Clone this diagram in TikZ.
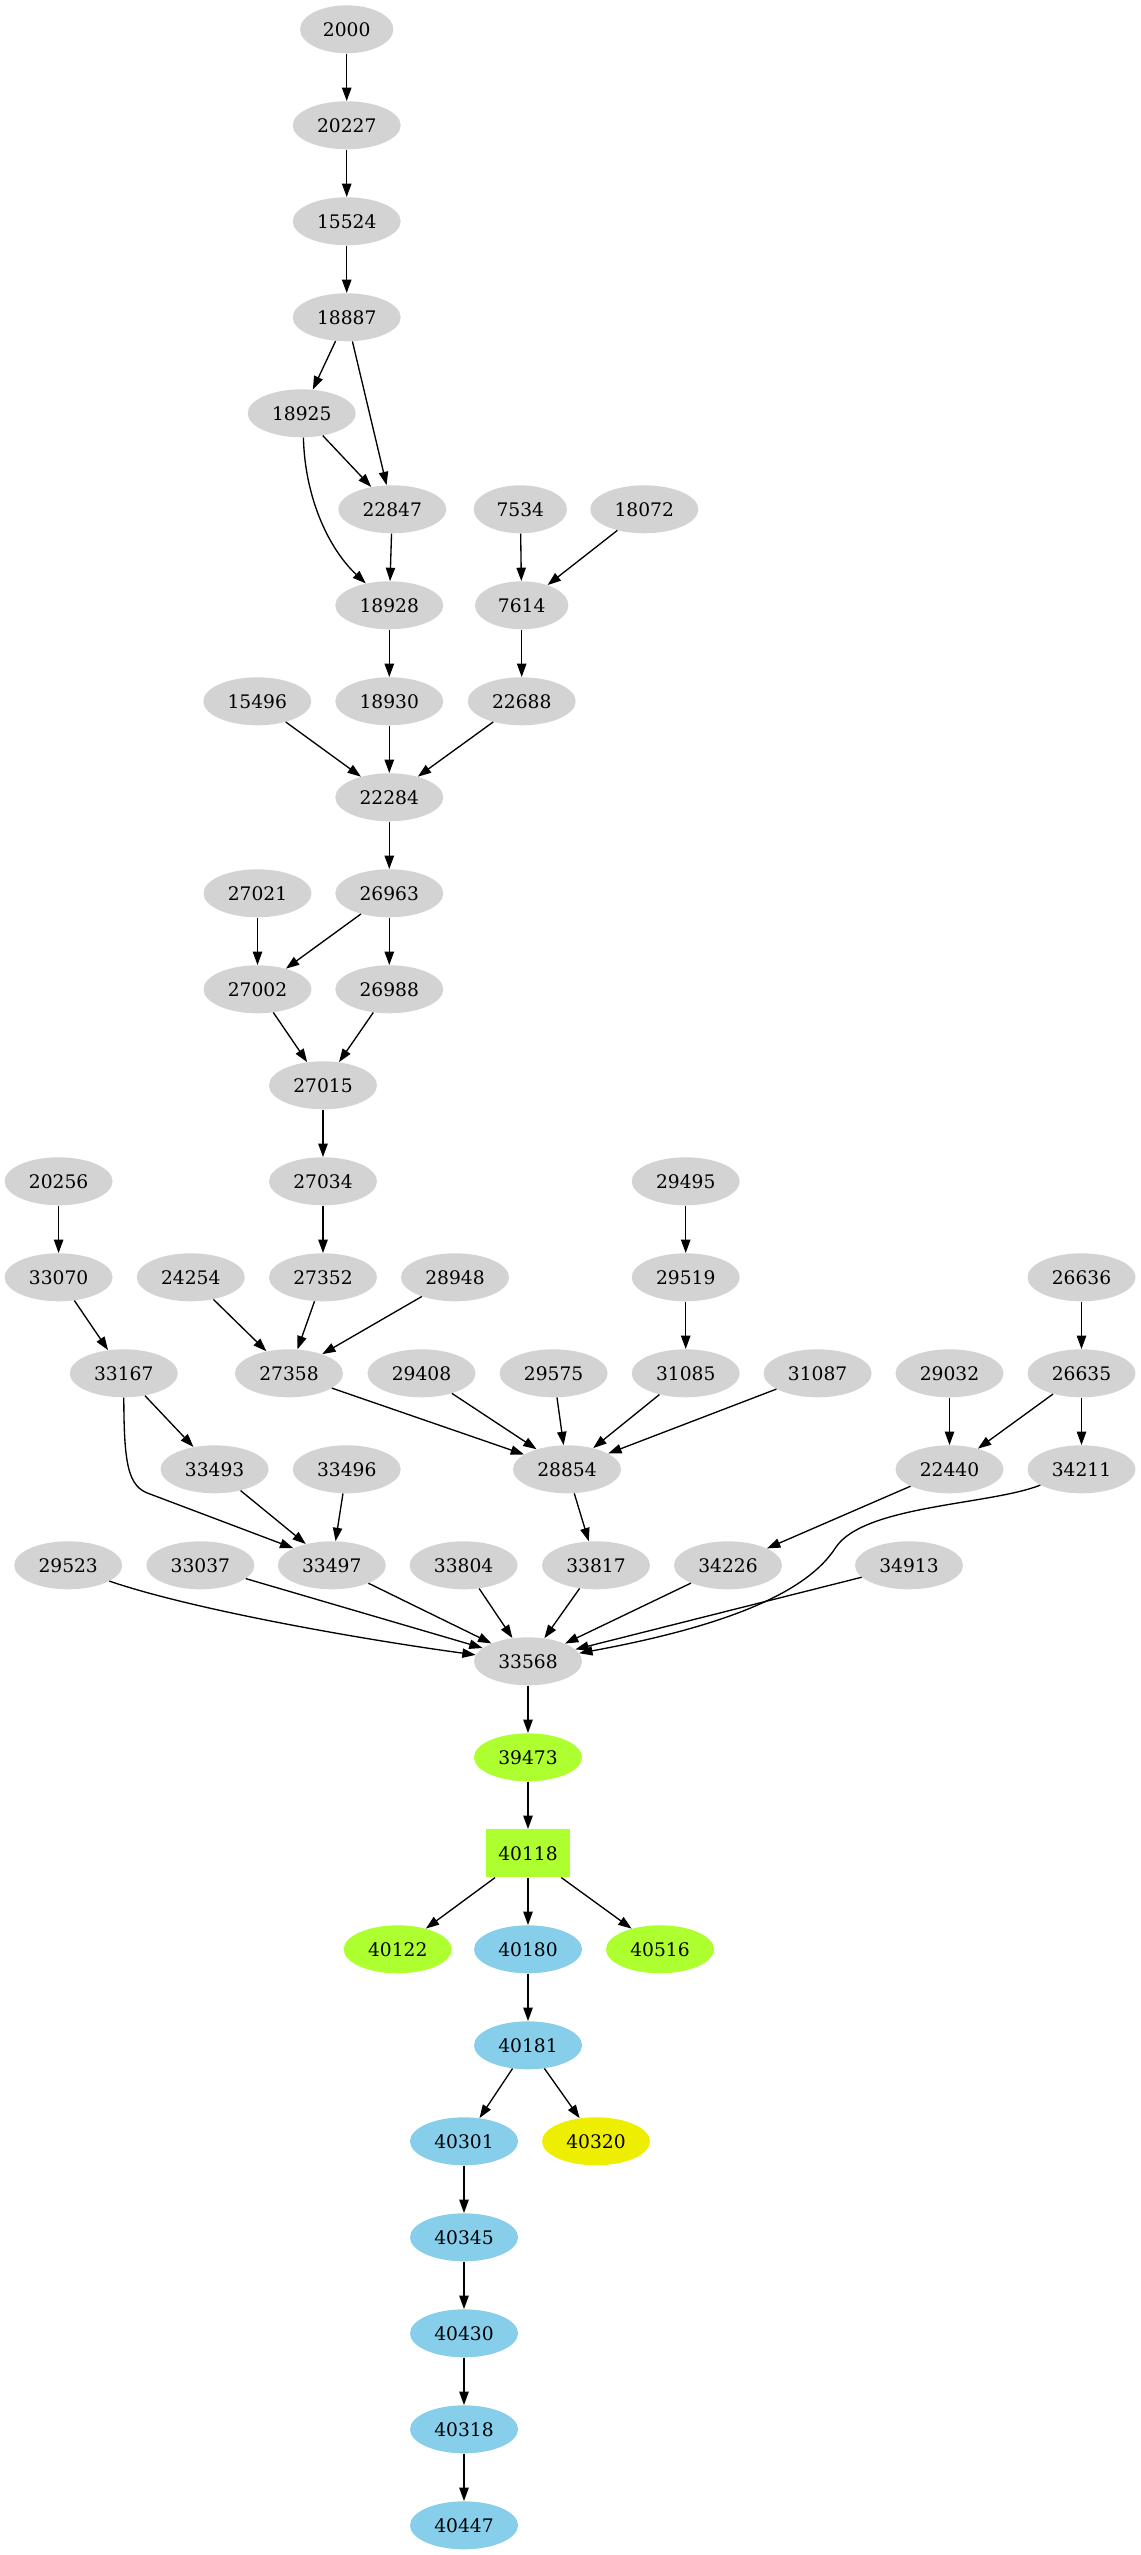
\documentclass[tikz,border=0pt]{standalone}
\usepackage{fontspec}
\setmainfont{DejaVu Serif}
\usetikzlibrary{arrows.meta,shapes.geometric}
\definecolor{gnode}{HTML}{D3D3D3}
\definecolor{greenn}{HTML}{ADFF2F}
\definecolor{bluen}{HTML}{87CEEB}
\definecolor{yellown}{HTML}{EEEE00}
\begin{document}
\begin{tikzpicture}[x=0.75pt,y=-0.75pt,
  nd/.style={ellipse, fill=gnode, draw=none, minimum width=81pt, minimum height=36pt, inner sep=0pt, font=\fontsize{14pt}{16pt}\selectfont},
  nf/.style={nd, minimum width=70pt},
  gr/.style={fill=greenn}, bl/.style={fill=bluen}, ye/.style={fill=yellown},
  bx/.style={rectangle, fill=greenn, draw=none, minimum width=63pt, minimum height=36pt, inner sep=0pt, font=\fontsize{14pt}{16pt}\selectfont},
  e/.style={-{Triangle[length=10pt,width=7pt]}, line width=1pt, black}
]
\useasboundingbox (0,0) rectangle (1141,2555);
% nodes
\node[nf] (n2000) at (346.7,29.3) {2000};
\node[nd] (n20227) at (346.7,125.3) {20227};
\node[nd] (n15524) at (346.7,221.3) {15524};
\node[nd] (n18887) at (346.7,317.3) {18887};
\node[nd] (n18925) at (301.7,413.3) {18925};
\node[nd] (n22847) at (392.3,509.3) {22847};
\node[nf] (n7534) at (520.3,509.3) {7534};
\node[nd] (n18072) at (644.3,509.3) {18072};
\node[nd] (n18928) at (389.3,605.3) {18928};
\node[nf] (n7614) at (521.7,605.3) {7614};
\node[nd] (n15496) at (257.3,701.3) {15496};
\node[nd] (n18930) at (389.3,701.3) {18930};
\node[nd] (n22688) at (521.7,701.3) {22688};
\node[nd] (n22284) at (389.3,797.3) {22284};
\node[nd] (n27021) at (257.5,893.3) {27021};
\node[nd] (n26963) at (389.3,893.3) {26963};
\node[nd] (n27002) at (257.5,989.3) {27002};
\node[nd] (n26988) at (389.3,989.3) {26988};
\node[nd] (n27015) at (323,1085.3) {27015};
\node[nd] (n20256) at (58.6,1181.3) {20256};
\node[nd] (n27034) at (323,1181.3) {27034};
\node[nd] (n29495) at (685.7,1181.3) {29495};
\node[nd] (n33070) at (58.6,1277.3) {33070};
\node[nd] (n24254) at (190.8,1277.3) {24254};
\node[nd] (n27352) at (323,1277.3) {27352};
\node[nd] (n28948) at (455,1277.3) {28948};
\node[nd] (n29519) at (685.7,1277.3) {29519};
\node[nd] (n26636) at (1081.5,1277.3) {26636};
\node[nd] (n33167) at (123.8,1373.3) {33167};
\node[nd] (n27358) at (289,1373.3) {27358};
\node[nd] (n29408) at (421.5,1373.3) {29408};
\node[nd] (n29575) at (553.6,1373.3) {29575};
\node[nd] (n31085) at (685.7,1373.3) {31085};
\node[nd] (n31087) at (817.6,1373.3) {31087};
\node[nd] (n29032) at (949.5,1373.3) {29032};
\node[nd] (n26635) at (1081.5,1373.3) {26635};
\node[nd] (n33493) at (214.6,1469.3) {33493};
\node[nd] (n33496) at (346.7,1469.3) {33496};
\node[nd] (n28854) at (567,1469.3) {28854};
\node[nd] (n22440) at (949.5,1469.3) {22440};
\node[nd] (n34211) at (1081.5,1469.3) {34211};
\node[nd] (n29523) at (68.2,1565.3) {29523};
\node[nd] (n33037) at (200.4,1565.3) {33037};
\node[nd] (n33497) at (331.8,1565.3) {33497};
\node[nd] (n33804) at (463.6,1565.3) {33804};
\node[nd] (n33817) at (596,1565.3) {33817};
\node[nd] (n34226) at (728,1565.3) {34226};
\node[nd] (n34913) at (909,1565.3) {34913};
\node[nd] (n33568) at (528,1661.3) {33568};
\node[nd,gr] (n39473) at (528,1757.3) {39473};
\node[bx] (n40118) at (528,1853.3) {40118};
\node[nd,gr] (n40122) at (397.7,1949.3) {40122};
\node[nd,bl] (n40180) at (528,1949.3) {40180};
\node[nd,gr] (n40516) at (660,1949.3) {40516};
\node[nd,bl] (n40181) at (528,2045.3) {40181};
\node[nd,bl] (n40301) at (464,2141.3) {40301};
\node[nd,ye] (n40320) at (596,2141.3) {40320};
\node[nd,bl] (n40345) at (464,2237.3) {40345};
\node[nd,bl] (n40430) at (464,2333.3) {40430};
\node[nd,bl] (n40318) at (464,2429.3) {40318};
\node[nd,bl] (n40447) at (464,2525.3) {40447};
% edges
\draw[e] (n2000) -- (n20227);
\draw[e] (n20227) -- (n15524);
\draw[e] (n15524) -- (n18887);
\draw[e] (n18887) -- (n18925);
\draw[e] (n18887) -- (n22847);
\draw[e] (n18925) -- (n22847);
\draw[e] (n18925.-86) .. controls (305,500) and (330,550) .. (n18928.137);
\draw[e] (n22847) -- (n18928);
\draw[e] (n7534) -- (n7614);
\draw[e] (n18072) -- (n7614);
\draw[e] (n18928) -- (n18930);
\draw[e] (n7614) -- (n22688);
\draw[e] (n15496) -- (n22284);
\draw[e] (n18930) -- (n22284);
\draw[e] (n22688) -- (n22284);
\draw[e] (n22284) -- (n26963);
\draw[e] (n27021) -- (n27002);
\draw[e] (n26963) -- (n27002);
\draw[e] (n26963) -- (n26988);
\draw[e] (n27002) -- (n27015);
\draw[e] (n26988) -- (n27015);
\draw[e] (n27015) -- (n27034);
\draw[e] (n27034) -- (n27352);
\draw[e] (n20256) -- (n33070);
\draw[e] (n33070) -- (n33167);
\draw[e] (n24254) -- (n27358);
\draw[e] (n27352) -- (n27358);
\draw[e] (n28948) -- (n27358);
\draw[e] (n29495) -- (n29519);
\draw[e] (n29519) -- (n31085);
\draw[e] (n26636) -- (n26635);
\draw[e] (n27358) -- (n28854);
\draw[e] (n29408) -- (n28854);
\draw[e] (n29575) -- (n28854);
\draw[e] (n31085) -- (n28854);
\draw[e] (n31087) -- (n28854);
\draw[e] (n29032) -- (n22440);
\draw[e] (n26635) -- (n22440);
\draw[e] (n26635) -- (n34211);
\draw[e] (n33167) -- (n33493);
\draw[e] (n33167.south) .. controls (124,1465) and (128,1487) .. (150,1494) -- (n33497.156);
\draw[e] (n33493) -- (n33497);
\draw[e] (n33496) -- (n33497);
\draw[e] (n28854) -- (n33817);
\draw[e] (n22440) -- (n34226);
\draw[e] (n29523.-21) .. controls (200,1612) and (380,1642) .. (n33568.173);
\draw[e] (n33037) -- (n33568);
\draw[e] (n33497) -- (n33568);
\draw[e] (n33804) -- (n33568);
\draw[e] (n33817) -- (n33568);
\draw[e] (n34226) -- (n33568);
\draw[e] (n34913) -- (n33568);
\draw[e] (n34211.201) .. controls (990,1505) and (865,1505) .. (836,1547) .. controls (815,1580) and (760,1620) .. (n33568.9);
\draw[e] (n33568) -- (n39473);
\draw[e] (n39473) -- (n40118);
\draw[e] (n40118) -- (n40122);
\draw[e] (n40118) -- (n40180);
\draw[e] (n40118) -- (n40516);
\draw[e] (n40180) -- (n40181);
\draw[e] (n40181) -- (n40301);
\draw[e] (n40181) -- (n40320);
\draw[e] (n40301) -- (n40345);
\draw[e] (n40345) -- (n40430);
\draw[e] (n40430) -- (n40318);
\draw[e] (n40318) -- (n40447);
\end{tikzpicture}
\end{document}
